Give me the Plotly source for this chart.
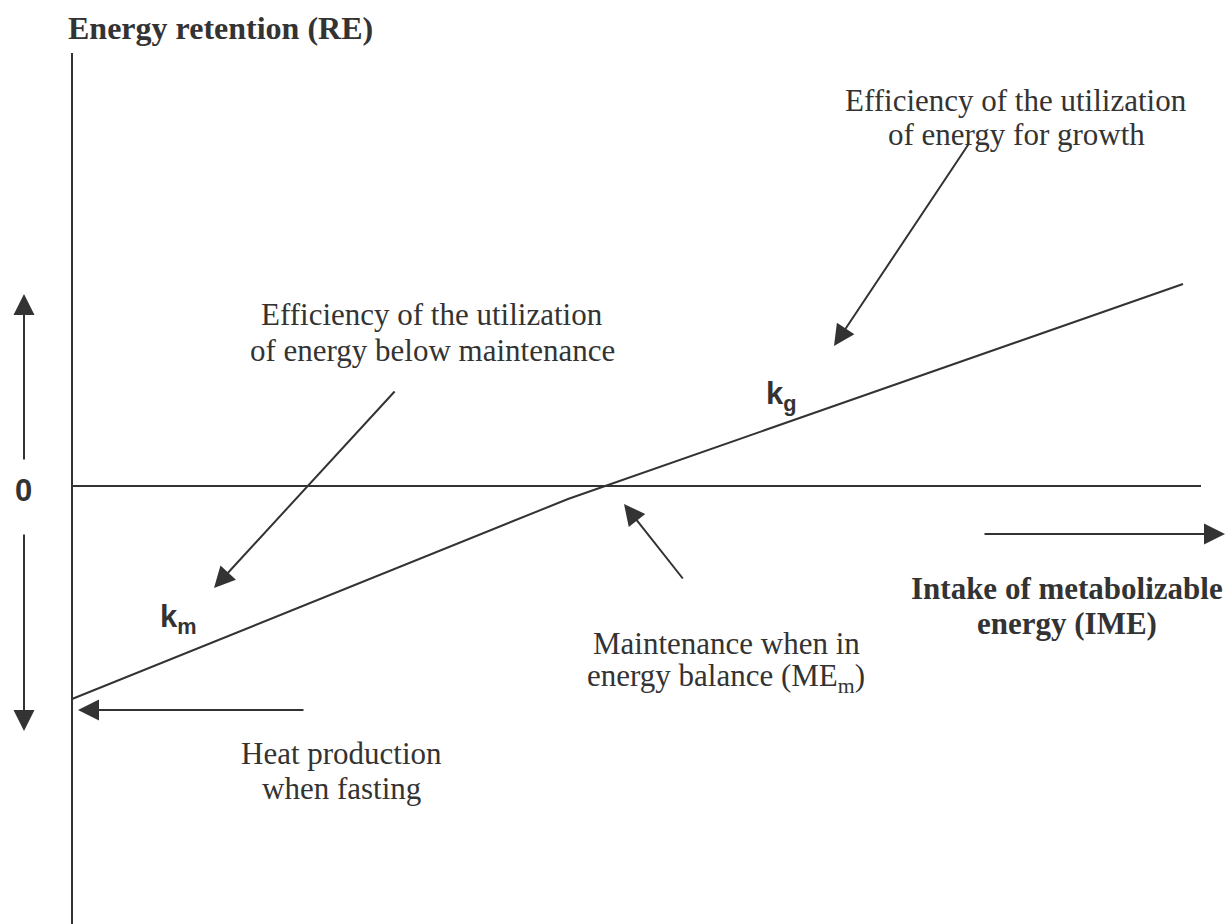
import plotly.graph_objects as go

# Diagram units: intake of metabolizable energy (x) and energy retention (y)
ime = [0.0, 9.92, 22.22]
re = [-4.26, -0.26, 4.04]

axis_v_x = [0.0, 0.0]
axis_v_y = [8.66, -8.76]
zero_x = [0.0, 22.58]
zero_y = [0.0, 0.0]

# arrows: tail -> tip
arrow_tail_x = [-0.96, -0.96, 4.66, 6.48, 17.96, 12.24, 18.22]
arrow_tail_y = [0.5, -0.94, -4.48, 1.92, 6.88, -1.88, -0.96]
arrow_tip_x = [-0.96, -0.96, 0.12, 2.84, 15.24, 11.04, 23.06]
arrow_tip_y = [3.84, -4.9, -4.48, -2.04, 2.8, -0.36, -0.96]

# text labels (one entry per line)
serif_texts = ["Efficiency of the utilization", "of energy for growth",
               "Efficiency of the utilization", "of energy below maintenance",
               "Maintenance when in", "energy balance (ME<sub>m</sub>)",
               "Heat production", "when fasting"]
serif_x = [18.88, 18.88, 7.2, 7.2, 13.08, 13.08, 5.38, 5.38]
serif_y = [7.72, 7.04, 3.44, 2.72, -3.14, -3.84, -5.34, -6.04]

bold_texts = ["Intake of metabolizable", "energy (IME)"]
bold_x = [19.9, 19.9]
bold_y = [-2.04, -2.74]

title_text = "Energy retention (RE)"
title_x, title_y = -0.12, 9.16

k_texts = ["k<sub>m</sub>", "k<sub>g</sub>"]
k_x = [1.72, 13.84]
k_y = [-2.66, 1.8]

zero_label_x, zero_label_y = -0.98, -0.08

INK = "#333333"
SERIF = "Liberation Serif, Times New Roman, serif"
SANS = "Liberation Sans, Arial, sans-serif"
FS = 31

fig = go.Figure()
fig.add_trace(go.Scatter(x=axis_v_x, y=axis_v_y, mode="lines",
                         line=dict(color=INK, width=2), hoverinfo="skip"))
fig.add_trace(go.Scatter(x=zero_x, y=zero_y, mode="lines",
                         line=dict(color=INK, width=2), hoverinfo="skip"))
fig.add_trace(go.Scatter(x=ime, y=re, mode="lines",
                         line=dict(color=INK, width=2), hoverinfo="skip"))

anns = []
for tx, ty, hx, hy in zip(arrow_tail_x, arrow_tail_y, arrow_tip_x, arrow_tip_y):
    anns.append(dict(x=hx, y=hy, ax=tx, ay=ty, xref="x", yref="y",
                     axref="x", ayref="y", text="", showarrow=True,
                     arrowhead=2, arrowsize=2.1, arrowwidth=2,
                     arrowcolor=INK))
for t, x, y in zip(serif_texts, serif_x, serif_y):
    anns.append(dict(x=x, y=y, xref="x", yref="y", text=t, showarrow=False,
                     xanchor="center", yanchor="middle",
                     font=dict(family=SERIF, size=FS, color=INK)))
for t, x, y in zip(bold_texts, bold_x, bold_y):
    anns.append(dict(x=x, y=y, xref="x", yref="y", text="<b>" + t + "</b>",
                     showarrow=False, xanchor="center", yanchor="middle",
                     font=dict(family=SERIF, size=FS, color=INK)))
anns.append(dict(x=title_x, y=title_y, xref="x", yref="y",
                 text="<b>" + title_text + "</b>", showarrow=False,
                 xanchor="left", yanchor="middle",
                 font=dict(family=SERIF, size=32, color=INK)))
for t, x, y in zip(k_texts, k_x, k_y):
    anns.append(dict(x=x, y=y, xref="x", yref="y", text="<b>" + t + "</b>",
                     showarrow=False, xanchor="left", yanchor="middle",
                     font=dict(family=SANS, size=FS, color=INK)))
anns.append(dict(x=zero_label_x, y=zero_label_y, xref="x", yref="y",
                 text="<b>0</b>", showarrow=False, xanchor="center",
                 yanchor="middle", font=dict(family=SANS, size=FS, color=INK)))

fig.update_layout(
    width=1231, height=924,
    margin=dict(l=0, r=0, t=0, b=0),
    paper_bgcolor="white", plot_bgcolor="white",
    showlegend=False,
    xaxis=dict(range=[-1.44, 23.18], visible=False, fixedrange=True),
    yaxis=dict(range=[-8.76, 9.72], visible=False, fixedrange=True),
    annotations=anns,
)

fig.write_html(
    "out.html",
    config={"displayModeBar": False},
    post_script="document.body.style.margin='0';document.body.style.overflow='hidden';",
)
